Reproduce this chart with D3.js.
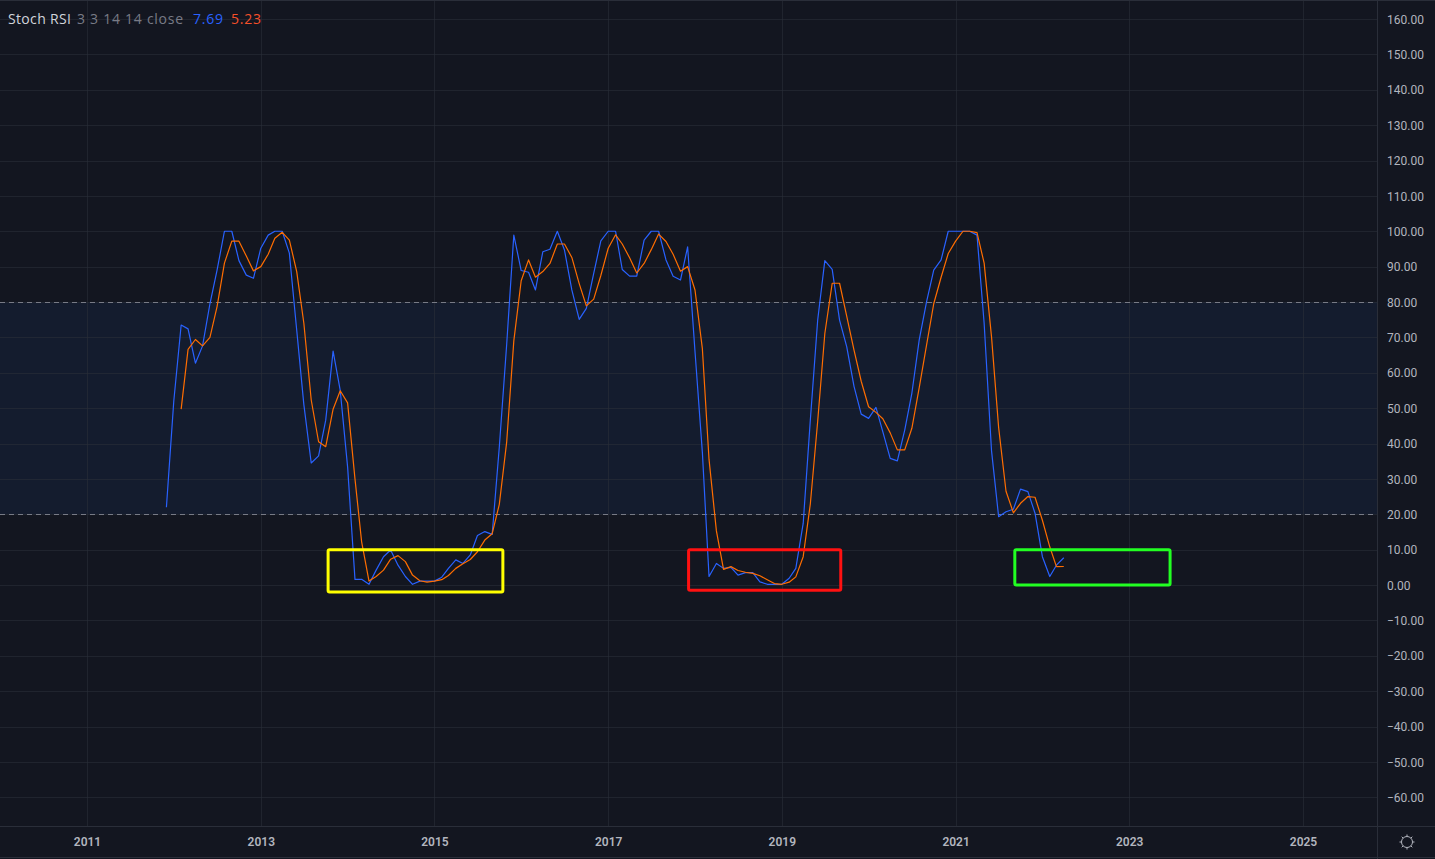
<!DOCTYPE html>
<html>
<head>
<meta charset="utf-8">
<script src="https://cdn.jsdelivr.net/npm/d3@7/dist/d3.min.js"></script>
<style>
  html, body { margin: 0; padding: 0; background: #131620; }
  svg { display: block; }
</style>
</head>
<body>
<svg id="chart" width="1435" height="859"></svg>
<script>
// ---------- DATA ----------
const kStart = "2011-12-01";   // first monthly bar of %K
const dStart = "2012-02-01";   // first monthly bar of %D
const kValues = [
  22, 52, 73.5, 72.4, 62.7, 67.6, 79.5, 89, 100, 100, 91.7, 87.6, 86.7, 95.2, 98.9, 100, 100, 93.8, 72, 51,
  34.5, 36.5, 46.6, 66.1, 55, 33.4, 1.6, 1.6, 0.2, 4.2, 8, 9.9, 5.6, 2.4, 0.2, 1.1, 1.1, 1.1, 2.2, 4.7,
  7.1, 6.1, 8.5, 14, 15.1, 14.3, 39, 68, 98.9, 88.9, 88.4, 83.4, 94.2, 94.9, 100, 94.7, 83.4, 75.1, 78.2, 88.1,
  97.3, 100, 100, 89.2, 87.3, 87.3, 97.5, 100, 100, 91.9, 87.3, 86.2, 95.6, 66, 37.5, 2.4, 6.1, 4.7, 5.0, 2.8,
  3.5, 3.5, 0.9, 0.2, 0.2, 0.2, 1.9, 4.7, 17.4, 46.6, 74.9, 91.7, 89.2, 74.9, 67.4, 56.1, 48.3, 47.1, 50.2, 43.3,
  35.8, 35.1, 43.8, 54.2, 69.3, 80.1, 89, 91.9, 100, 100, 100, 100, 98.9, 74, 38, 19.3, 20.7, 21.4, 27.1, 26.4,
  20.3, 8, 2.4, 5.6, 7.69
];
const dValues = [
  49.7, 66.6, 69.4, 67.6, 70, 78.7, 91, 97.2, 97.2, 93, 88.8, 90, 93.5, 98, 99.7, 97.5, 88.6, 74, 52.3, 40.5,
  39.1, 49.7, 54.9, 51.5, 30, 12.2, 1.1, 2.4, 4.2, 7.3, 8.3, 6.6, 2.8, 1.2, 0.8, 1.1, 1.5, 2.7, 4.7, 6,
  7.2, 9.4, 12.7, 14.5, 22.8, 40.4, 69, 86, 91.9, 87, 88.6, 90.9, 96.4, 96.4, 92.6, 85.2, 78.9, 80.8, 87.5, 95.2,
  99, 96.4, 92.5, 88.2, 90.9, 94.8, 99.2, 97.1, 93.5, 88.7, 90, 83.4, 66.8, 35.5, 15.3, 4.4, 5.2, 4.1, 3.6, 3.3,
  2.6, 1.5, 0.4, 0.2, 0.8, 2.3, 8, 22.9, 46.3, 71.1, 85.3, 85.3, 76, 66.3, 57.6, 50.4, 48.8, 47, 43, 38.2,
  38.2, 44.3, 55.8, 67.9, 79.5, 87, 93.7, 97.2, 100, 100, 99.6, 91, 70.2, 44.5, 26.5, 20.4, 23.1, 25, 24.8, 18.3,
  10.8, 5.2, 5.23
];
const yTicks = [160, 150, 140, 130, 120, 110, 100, 90, 80, 70, 60, 50, 40, 30, 20, 10, 0, -10, -20, -30, -40, -50, -60];
const xTickYears = [2011, 2013, 2015, 2017, 2019, 2021, 2023, 2025];
const bandLevels = [80, 20];
const boxStarts = ["2013-10-11", "2017-12-05", "2021-09-07"];
const boxEnds   = ["2015-10-16", "2019-09-06", "2023-06-22"];
const boxTops   = [10, 10, 10];
const boxBottoms = [-2, -1.5, 0];
const boxColors = ["#ffff00", "#ff1111", "#22ff22"];
const legendName = "Stoch RSI";
const legendParams = "3 3 14 14 close";
const legendK = "7.69";
const legendD = "5.23";

// ---------- LAYOUT ----------
const W = 1435, H = 859;
const plotRight = 1377, plotBottom = 826;
const bg = "#131620";

const parse = d3.timeParse("%Y-%m-%d");
const x = d3.scaleTime()
  .domain([new Date(2011, 0, 1), new Date(2025, 0, 1)])
  .range([87, 1303]);
const y = d3.scaleLinear().domain([0, 100]).range([585, 231.25]);

const kDates = d3.timeMonth.range(parse(kStart), d3.timeMonth.offset(parse(kStart), kValues.length));
const dDates = d3.timeMonth.range(parse(dStart), d3.timeMonth.offset(parse(dStart), dValues.length));
const kData = kValues.map((v, i) => ({ date: kDates[i], v }));
const dData = dValues.map((v, i) => ({ date: dDates[i], v }));

const svg = d3.select("#chart");
svg.append("rect").attr("width", W).attr("height", H).attr("fill", bg);

// band between 20 and 80
svg.append("rect")
  .attr("x", 0).attr("width", plotRight)
  .attr("y", y(bandLevels[0])).attr("height", y(bandLevels[1]) - y(bandLevels[0]))
  .attr("fill", "#141c2e");

// horizontal grid
svg.append("g").selectAll("line").data(yTicks).join("line")
  .attr("x1", 0).attr("x2", plotRight)
  .attr("y1", d => Math.round(y(d)) + 0.5).attr("y2", d => Math.round(y(d)) + 0.5)
  .attr("stroke", "rgba(42,46,57,0.6)").attr("stroke-width", 1);

// vertical grid
svg.append("g").selectAll("line").data(xTickYears).join("line")
  .attr("x1", d => Math.round(x(new Date(d, 0, 1))) + 0.5)
  .attr("x2", d => Math.round(x(new Date(d, 0, 1))) + 0.5)
  .attr("y1", 0).attr("y2", plotBottom)
  .attr("stroke", "rgba(42,46,57,0.6)").attr("stroke-width", 1);

// dashed band borders
svg.append("g").selectAll("line").data(bandLevels).join("line")
  .attr("x1", 0).attr("x2", plotRight)
  .attr("y1", d => Math.round(y(d)) + 0.5).attr("y2", d => Math.round(y(d)) + 0.5)
  .attr("stroke", "#787b86").attr("stroke-width", 1).attr("stroke-dasharray", "5,4");

// lines
const line = d3.line().x(d => x(d.date)).y(d => y(d.v));
svg.append("path").datum(kData).attr("d", line)
  .attr("fill", "none").attr("stroke", "#2962ff").attr("stroke-width", 1.2).attr("stroke-linejoin", "round");
svg.append("path").datum(dData).attr("d", line)
  .attr("fill", "none").attr("stroke", "#ff6d00").attr("stroke-width", 1.2).attr("stroke-linejoin", "round");

// highlight boxes
svg.append("g").selectAll("rect").data(boxStarts.map((s, i) => i)).join("rect")
  .attr("x", i => x(parse(boxStarts[i])))
  .attr("width", i => x(parse(boxEnds[i])) - x(parse(boxStarts[i])))
  .attr("y", i => y(boxTops[i]))
  .attr("height", i => y(boxBottoms[i]) - y(boxTops[i]))
  .attr("rx", 1.5)
  .attr("fill", "none").attr("stroke", i => boxColors[i]).attr("stroke-width", 3);

// panel separators
svg.append("rect").attr("x", plotRight + 1).attr("y", 0).attr("width", W - plotRight - 1).attr("height", H).attr("fill", bg);
svg.append("rect").attr("x", 0).attr("y", plotBottom + 1).attr("width", W).attr("height", H - plotBottom - 1).attr("fill", bg);
svg.append("line").attr("x1", plotRight + 0.5).attr("x2", plotRight + 0.5).attr("y1", 0).attr("y2", H)
  .attr("stroke", "#2a2e39");
svg.append("line").attr("x1", 0).attr("x2", W).attr("y1", plotBottom + 0.5).attr("y2", plotBottom + 0.5)
  .attr("stroke", "#2a2e39");
svg.append("line").attr("x1", 0).attr("x2", W).attr("y1", 0.5).attr("y2", 0.5)
  .attr("stroke", "#2a2e39");
svg.append("line").attr("x1", 0).attr("x2", W).attr("y1", H - 1.5).attr("y2", H - 1.5)
  .attr("stroke", "#2a2e39");

// right axis
const yAxis = d3.axisRight(y).tickValues(yTicks).tickSize(0).tickPadding(0)
  .tickFormat(d => (d < 0 ? "\u2212" : "") + Math.abs(d).toFixed(2));
const gy = svg.append("g").attr("transform", `translate(1387,0)`).call(yAxis);
gy.select(".domain").remove();
gy.selectAll("text").attr("fill", "#b2b5be").attr("font-size", 12)
  .attr("font-family", "Roboto, 'Noto Sans', sans-serif").attr("dy", "0.35em");

// bottom axis
const xAxis = d3.axisBottom(x).tickValues(xTickYears.map(yy => new Date(yy, 0, 1)))
  .tickSize(0).tickPadding(0).tickFormat(d3.timeFormat("%Y"));
const gx = svg.append("g").attr("transform", `translate(0,${plotBottom})`).call(xAxis);
gx.select(".domain").remove();
gx.selectAll("text").attr("fill", "#b2b5be").attr("font-size", 12).attr("font-weight", 600)
  .attr("font-family", "Roboto, 'Noto Sans', sans-serif").attr("y", 16).attr("dy", "0.35em");

// gear icon
const gear = svg.append("g").attr("transform", "translate(1407,842)")
  .attr("stroke", "#b2b5be").attr("fill", "none").attr("stroke-width", 1);
gear.append("circle").attr("r", 5.5);
d3.range(8).forEach(i => {
  const a = i * Math.PI / 4;
  gear.append("line")
    .attr("x1", Math.cos(a) * 5.5).attr("y1", Math.sin(a) * 5.5)
    .attr("x2", Math.cos(a) * 7.5).attr("y2", Math.sin(a) * 7.5);
});

// legend
const lg = svg.append("g").attr("font-family", "'Open Sans', Roboto, sans-serif").attr("font-size", 14);
lg.append("text").attr("x", 8).attr("y", 24).attr("fill", "#d1d4dc")
  .attr("textLength", 63).attr("lengthAdjust", "spacing").text(legendName);
lg.append("text").attr("x", 77).attr("y", 24).attr("fill", "#787b86")
  .attr("textLength", 106).attr("lengthAdjust", "spacing").text(legendParams);
lg.append("text").attr("x", 193).attr("y", 24).attr("fill", "#2962ff")
  .attr("textLength", 30).attr("lengthAdjust", "spacing").text(legendK);
lg.append("text").attr("x", 231).attr("y", 24).attr("fill", "#f5502a")
  .attr("textLength", 30).attr("lengthAdjust", "spacing").text(legendD);
</script>
</body>
</html>
